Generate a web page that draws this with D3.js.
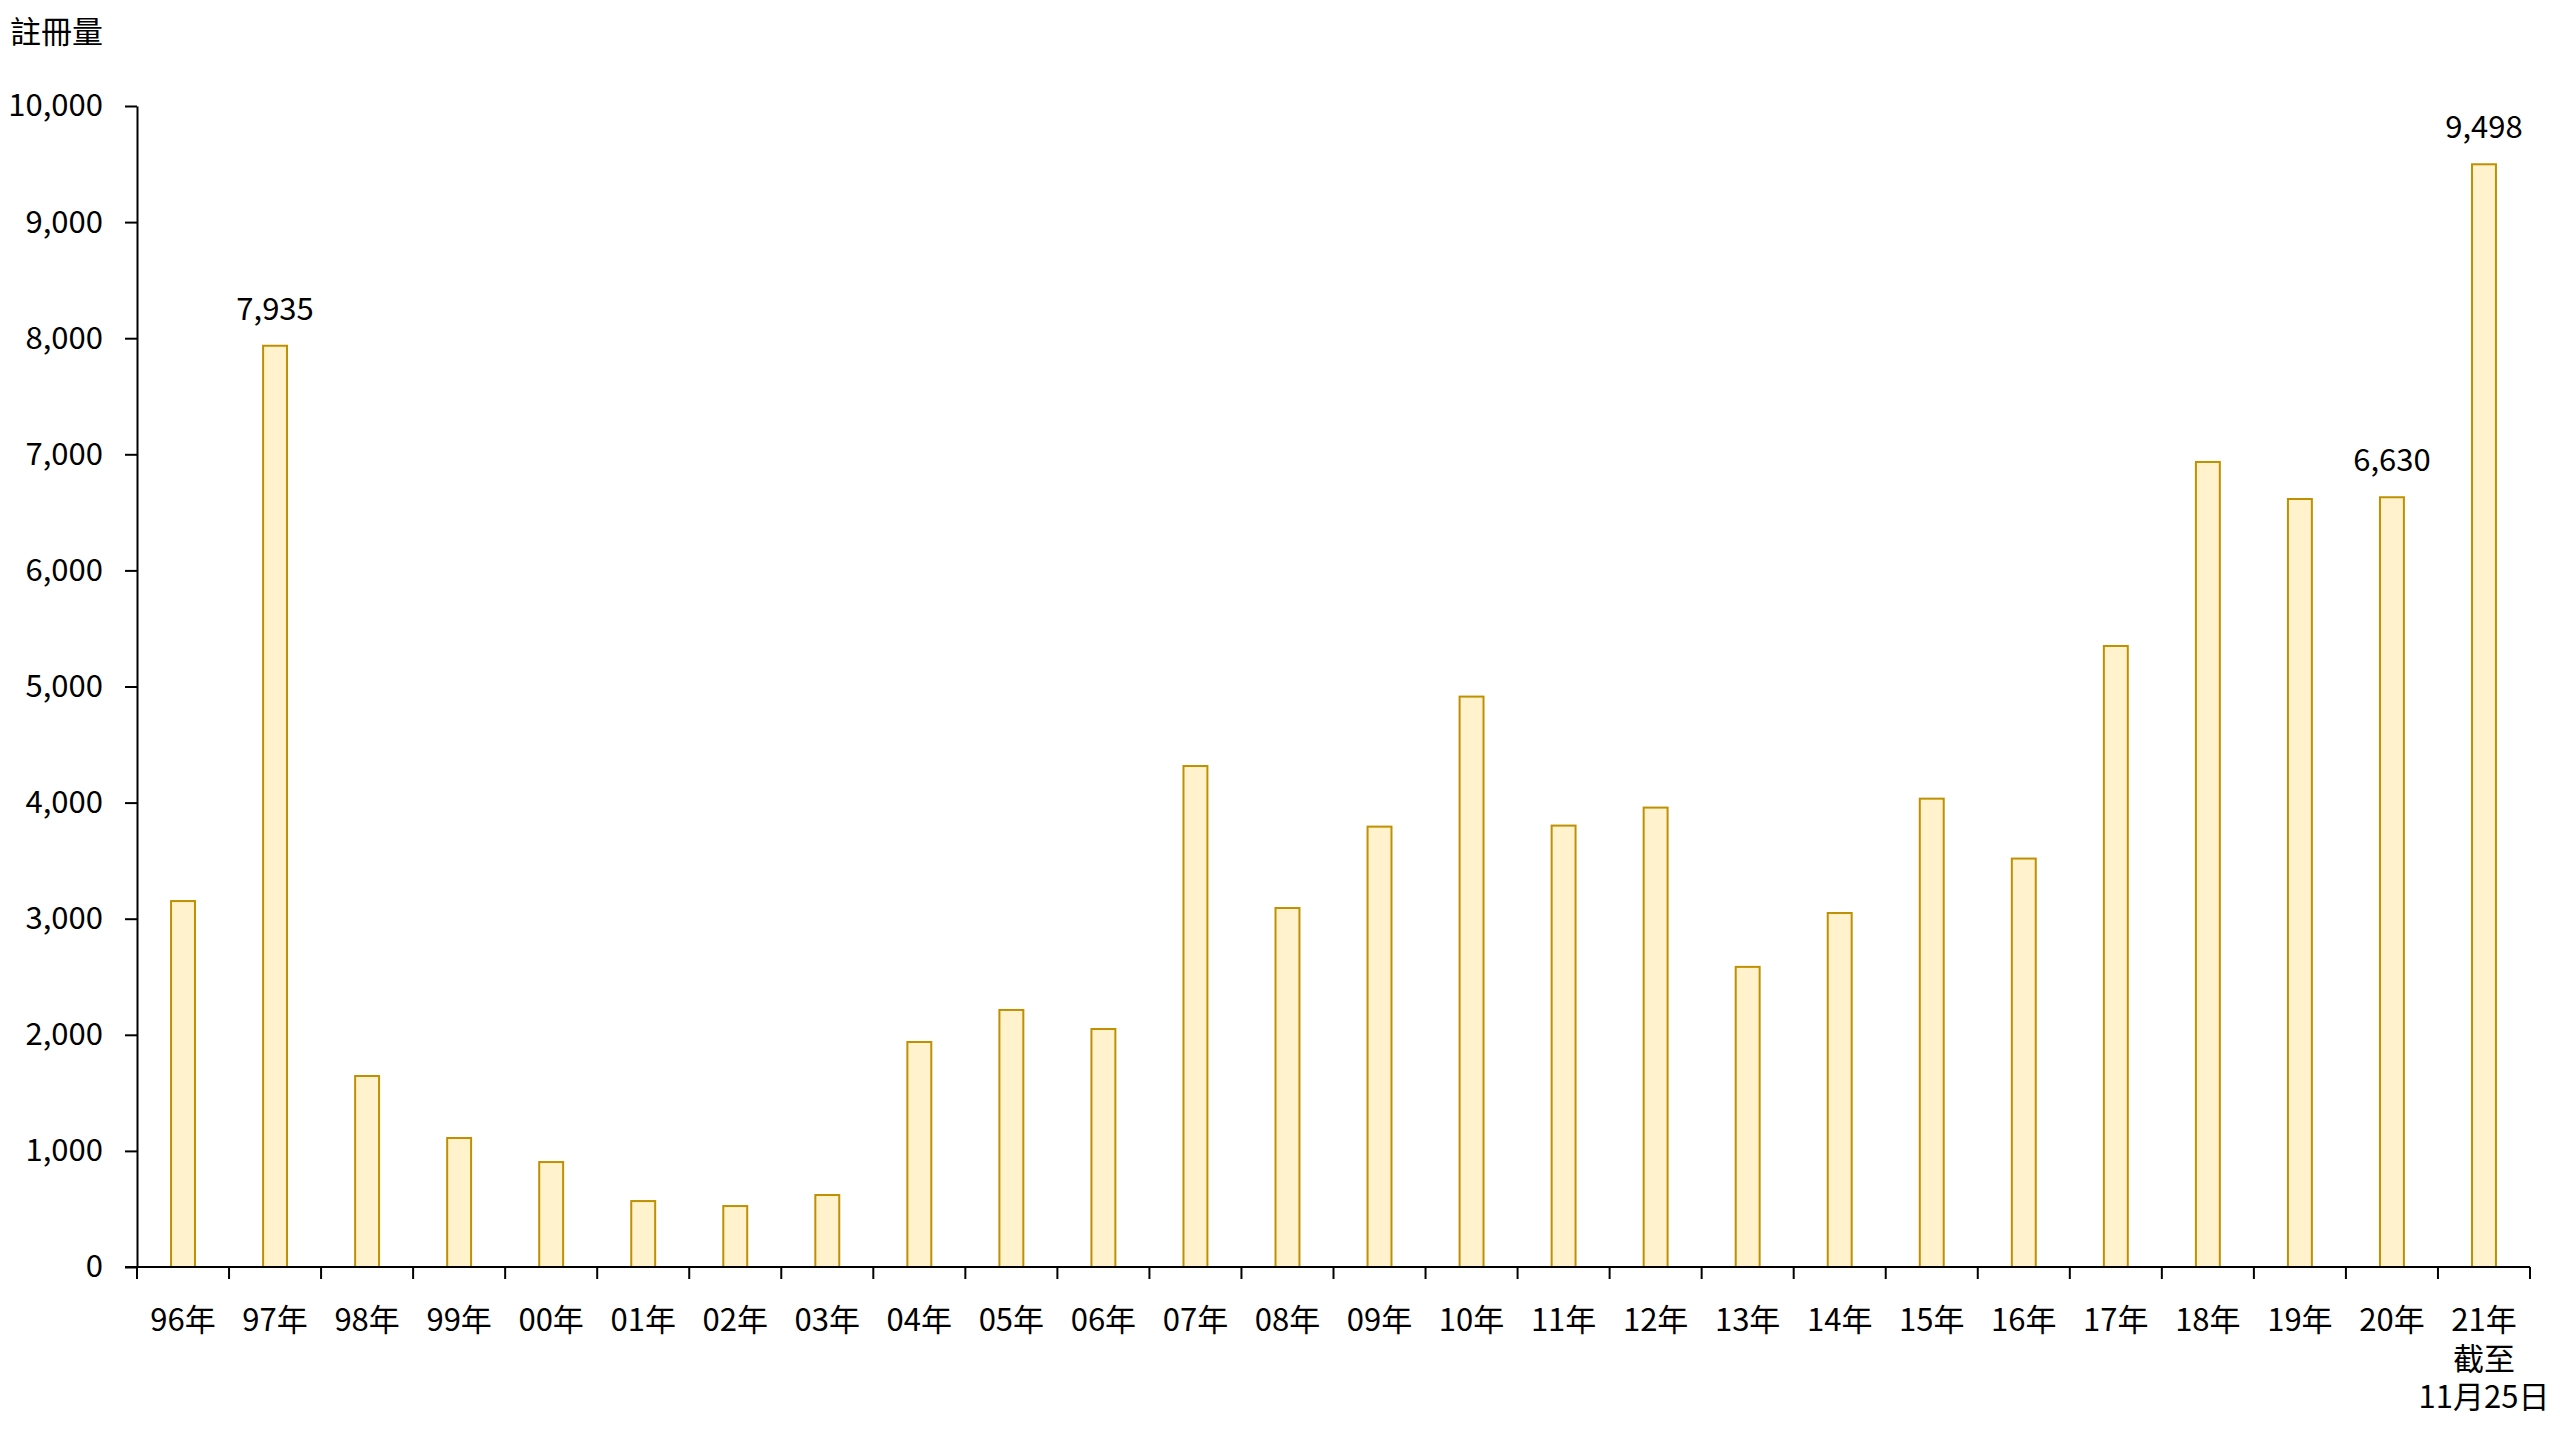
<!DOCTYPE html>
<html>
<head>
<meta charset="utf-8">
<script src="https://cdn.jsdelivr.net/npm/d3@7"></script>
<style>
  html, body { margin: 0; padding: 0; background: #fff; }
  svg { display: block; }
  text { font-family: "Noto Sans CJK TC", "Noto Sans", sans-serif; fill: #000; }
</style>
</head>
<body>
<svg id="chart" width="2560" height="1440"></svg>
<script>
const categories = ["96年","97年","98年","99年","00年","01年","02年","03年","04年","05年","06年","07年","08年","09年","10年","11年","12年","13年","14年","15年","16年","17年","18年","19年","20年","21年\n截至\n11月25日"];
const values = [3152,7935,1645,1111,904,568,525,620,1938,2214,2050,4315,3092,3793,4913,3802,3957,2585,3049,4034,3518,5349,6934,6615,6630,9498];
const labeledIndex = [1,24,25];
const yTicks = [0,1000,2000,3000,4000,5000,6000,7000,8000,9000,10000];
const yTitle = "註冊量";

const margin = {left: 137, top: 106, right: 30, bottom: 173};
const iw = 2530 - margin.left;
const ih = 1267 - margin.top;

const svg = d3.select("#chart");
const g = svg.append("g").attr("transform", `translate(${margin.left},${margin.top})`);

const x = d3.scaleBand().domain(d3.range(categories.length)).range([0, iw]).paddingInner(0).paddingOuter(0);
const y = d3.scaleLinear().domain([0, 10000]).range([ih, 0]);

// Y axis
const yAxis = g.append("g")
  .call(d3.axisLeft(y).tickValues(yTicks).tickFormat(d3.format(",")).tickSize(12).tickSizeOuter(0).tickPadding(22));
yAxis.selectAll("path, line").attr("stroke", "#000").attr("stroke-width", 2);
yAxis.selectAll("text").style("font-size", "31px").attr("font-family", null);

// Bars
const bw = x.bandwidth() * 0.26;
g.selectAll("rect.bar").data(values).join("rect")
  .attr("class", "bar")
  .attr("x", (d, i) => x(i) + x.bandwidth() / 2 - bw / 2)
  .attr("y", d => y(d))
  .attr("width", bw)
  .attr("height", d => y(0) - y(d))
  .attr("fill", "#FFF2CC")
  .attr("stroke", "#BF9000")
  .attr("stroke-width", 2);

// X axis line and boundary ticks
const xa = g.append("g").attr("transform", `translate(0,${ih})`);
xa.append("line").attr("x1", -12).attr("x2", iw).attr("y1", 0).attr("y2", 0)
  .attr("stroke", "#000").attr("stroke-width", 2);
const bounds = d3.range(categories.length).map(i => x(i)).concat([x.range()[1]]);
xa.selectAll("line.tick").data(bounds).join("line")
  .attr("class", "tick")
  .attr("x1", d => d).attr("x2", d => d).attr("y1", 0).attr("y2", 12)
  .attr("stroke", "#000").attr("stroke-width", 2);

// X labels (each line its own text element)
categories.forEach((d, i) => {
  const lines = d.split("\n");
  lines.forEach((l, k) => {
    xa.append("text")
      .attr("class", "xl")
      .attr("text-anchor", "middle")
      .style("font-size", "31px")
      .attr("x", x(i) + x.bandwidth() / 2)
      .attr("y", 64 + k * 38.5)
      .text(l);
  });
});

// Value labels
g.selectAll("text.val").data(labeledIndex).join("text")
  .attr("class", "val")
  .attr("text-anchor", "middle")
  .style("font-size", "31px")
  .attr("x", i => x(i) + x.bandwidth() / 2)
  .attr("y", i => y(values[i]) - 26)
  .text(i => d3.format(",")(values[i]));

// Y title
svg.append("text").attr("x", 10).attr("y", 43).style("font-size", "31px").text(yTitle);
</script>
</body>
</html>
